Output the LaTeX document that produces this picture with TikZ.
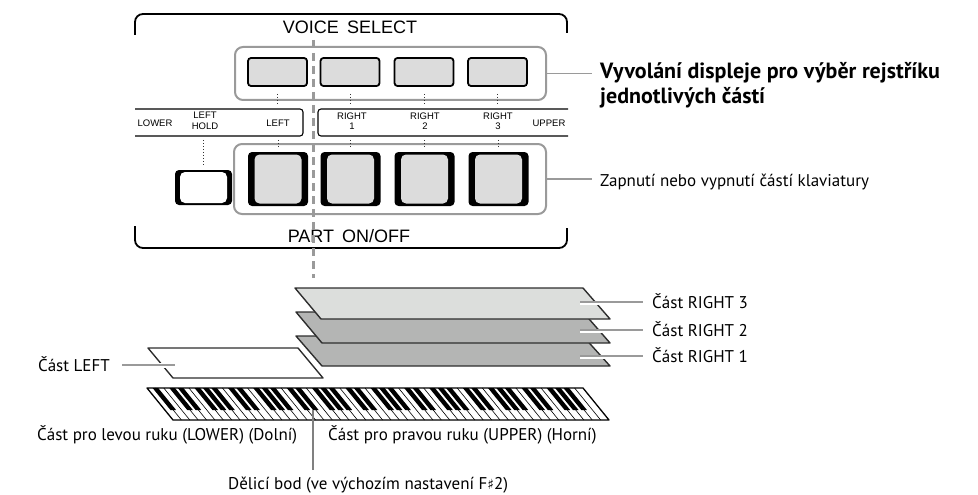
\documentclass[tikz,border=0pt]{standalone}
\usepackage{fontspec}
\setmainfont{PT Sans}
\newfontfamily\panelfont{Liberation Sans}
\newfontfamily\symfont{DejaVu Sans}
\definecolor{grpgray}{HTML}{9A9A9A}
\definecolor{btngray}{HTML}{DCDCDC}
\definecolor{laylight}{HTML}{DCDEDC}
\definecolor{laydark}{HTML}{B4B5B4}
\definecolor{edgegray}{HTML}{2E2E2E}
\begin{document}
\begin{tikzpicture}[x=1pt,y=-1pt,
  frame/.style={line width=1.8pt},
  rowbox/.style={line width=1.1pt, rounded corners=3pt},
  grp/.style={draw=grpgray, line width=2pt, rounded corners=8pt, inner sep=0pt},
  vbtn/.style={draw=black, fill=btngray, line width=1.8pt, rounded corners=3pt,
    minimum width=59pt, minimum height=28pt, inner sep=0pt},
  pbtn/.style={fill=black, rounded corners=4pt, inner sep=0pt},
  pface/.style={rounded corners=5pt, inner sep=0pt},
  dots/.style={line width=1pt, dash pattern=on 1pt off 2pt, draw=black!80},
  lbl/.style={font=\panelfont\fontsize{9.5}{10.5}\selectfont, align=center, inner sep=0pt},
  big/.style={font=\panelfont\fontsize{18}{20}\selectfont, inner sep=0pt},
  call/.style={font=\fontsize{17}{20}\selectfont, inner sep=0pt},
  callb/.style={font=\bfseries\fontsize{22}{25}\selectfont, inner sep=0pt},
  lead/.style={draw=grpgray, line width=1.6pt},
  halo/.style={draw=white, line width=2pt},
  layer/.style={draw=edgegray, line width=1.4pt, line join=round},
  splitdash/.style={draw=grpgray, line width=3pt, dash pattern=on 8pt off 5pt}
]
\useasboundingbox (0,0) rectangle (978,495);

% ---------- panel frame ----------
\draw[frame, rounded corners=8pt] (135,35) -- (135,14) -- (567,14) -- (567,33);
\draw[frame, rounded corners=8pt] (135,226) -- (135,248) -- (567,248) -- (567,228);
\node[big, anchor=base] (tVS) at (350,34) {VOICE\hspace{0.45em}SELECT};
\node[big, anchor=base] (tPO) at (349,242) {PART\hspace{0.45em}ON/OFF};

% ---------- label row ----------
\draw[rowbox] (135,109) -- (303,109) -- (303,136) -- (135,136);
\draw[rowbox] (568,109) -- (318,109) -- (318,136) -- (568,136);
\node[lbl] (lLower) at (155,123) {LOWER};
\node[lbl] (lHold) at (205,121) {LEFT\\HOLD};
\node[lbl] (lLeft) at (278,123) {LEFT};
\node[lbl] (lR1) at (352,121) {RIGHT\\1};
\node[lbl] (lR2) at (425,121) {RIGHT\\2};
\node[lbl] (lR3) at (498,121) {RIGHT\\3};
\node[lbl] (lUp) at (549,123) {UPPER};

% ---------- button groups ----------
\node[grp, minimum width=311pt, minimum height=53pt] (gV) at (390.5,73.5) {};
\node[grp, minimum width=312pt, minimum height=70pt] (gP) at (390,179) {};

\foreach \n/\x in {1/277.5, 2/350, 3/424, 4/497.5}{
  \node[vbtn] (v\n) at (\x,72) {};
  \draw[dots] ([yshift=-7pt]v\n.south) -- ([yshift=-18pt]v\n.south);
}
\foreach \n/\x in {1/278, 2/350.5, 3/424.5, 4/498.5}{
  \node[pbtn, minimum width=60pt, minimum height=54pt] (p\n) at (\x,179) {};
  \node[pface, fill=btngray, minimum width=47pt, minimum height=49pt] (pf\n) at (p\n) {};
  \draw[dots] ([yshift=12pt]p\n.north) -- ([yshift=5pt]p\n.north);
}
\node[pbtn, minimum width=57pt, minimum height=35pt] (lh) at (203.5,187.5) {};
\node[pface, fill=white, minimum width=47pt, minimum height=31pt] (lhf) at (lh) {};
\draw[dots] ([yshift=30pt]lh.north) -- ([yshift=4pt]lh.north);

% split marker through the panel
\coordinate (sTop) at (313,40);
\coordinate (sBot) at (313,278);
\draw[splitdash] (sTop) -- (sBot);

% ---------- callouts for the panel ----------
\coordinate (cvEnd) at (592,73.5);
\coordinate (cpEnd) at (592,179);
\draw[lead] (gV.east) -- (cvEnd);
\draw[lead] (gP.east) -- (cpEnd);
\node[callb, anchor=base west] (cV1) at (600,78) {Vyvolání displeje pro výběr rejstříku};
\node[callb, anchor=base west] (cV2) at (600,103) {jednotlivých částí};
\node[call, anchor=base west] (cP) at (600,186) {Zapnutí nebo vypnutí částí klaviatury};

% ---------- voice layers ----------
\draw[layer, fill=laydark] (296,336) -- (583,336) -- (610,366) -- (322,366) -- cycle;
\draw[layer, fill=laydark] (296,312) -- (583,312) -- (610,343) -- (322,343) -- cycle;
\draw[layer, fill=laylight] (295,288) -- (583,288) -- (610,319) -- (321,319) -- cycle;
\draw[layer, fill=white] (148,348) -- (298,348) -- (323,378) -- (173,378) -- cycle;

\node[call, anchor=base west] (cR3) at (652,308) {Část RIGHT 3};
\node[call, anchor=base west] (cR2) at (652,336) {Část RIGHT 2};
\node[call, anchor=base west] (cR1) at (652,362) {Část RIGHT 1};
\node[call, anchor=base east] (cL) at (110,371) {Část LEFT};

\foreach \n/\y in {3/302, 2/330, 1/356}{
  \coordinate (r\n a) at (580,\y);
  \coordinate (r\n b) at (643,\y);
  \draw[halo] ([yshift=-2pt]r\n a) -- ([yshift=-2pt]r\n b);
  \draw[lead] (r\n a) -- (r\n b);
}
\coordinate (la) at (122,365);
\coordinate (lb) at (175,365);
\draw[draw=white, line width=5pt] (157,365) -- (lb);
\draw[lead] (la) -- (lb);

% ---------- keyboard (88 keys, slanted) ----------
\fill[white] (147,388) -- (583,388) -- (609,420) -- (173,420) -- cycle;
\foreach \i in {1,...,51}
  \draw[line width=0.6pt] ({147+\i*8.3846},388) -- ({173+\i*8.3846},420);
\foreach \i in {0,...,50}{
  \pgfmathtruncatemacro\m{mod(\i,7)}
  \ifnum\m=1\relax\else\ifnum\m=4\relax\else
    \fill ({147+(\i+1)*8.3846-2.8},388) -- ++(5.6,0) -- ++(17.9,22) -- ++(-5.6,0) -- cycle;
  \fi\fi
}
\draw[line width=1.3pt, line join=round] (147,388) -- (583,388) -- (609,420) -- (173,420) -- cycle;

% split point
\coordinate (kSplit) at (313,410);
\coordinate (kSplitEnd) at (313,470);
\draw[draw=gray, line width=1.5pt] (kSplit) -- (kSplitEnd);

\node[call, anchor=base west] (kLow) at (37,440) {Část pro levou ruku (LOWER) (Dolní)};
\node[call, anchor=base west] (kUp) at (328,440) {Část pro pravou ruku (UPPER) (Horní)};
\node[call, anchor=base west] (kSp) at (228,489) {Dělicí bod (ve výchozím nastavení F{\symfont\fontsize{14}{16}\selectfont ♯}2)};
\end{tikzpicture}
\end{document}
